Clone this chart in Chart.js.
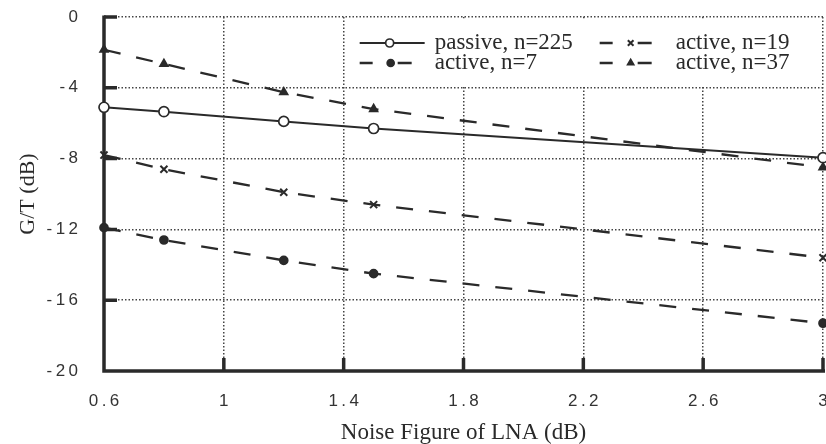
<!DOCTYPE html>
<html>
<head>
<meta charset="utf-8">
<script src="https://cdn.jsdelivr.net/npm/chart.js@4.4.1/dist/chart.umd.min.js"></script>
<style>
  html, body { margin: 0; padding: 0; background: #fff; overflow: hidden; }
  canvas { display: block; }
</style>
</head>
<body>
<canvas id="gtChart" width="860" height="444"></canvas>
<script>
// values
const noiseFigure = [0.6, 0.8, 1.2, 1.5, 3];
const passive225 = [-5.1, -5.35, -5.9, -6.3, -7.95];
const active19 = [-7.8, -8.6, -9.9, -10.6, -13.6];
const active7 = [-11.9, -12.6, -13.75, -14.5, -17.3];
const active37 = [-1.85, -2.65, -4.25, -5.2, -8.5];
const seriesNames = ['passive, n=225', 'active, n=19', 'active, n=7', 'active, n=37'];
const xTicks = [0.6, 1, 1.4, 1.8, 2.2, 2.6, 3];
const yTicks = [0, -4, -8, -12, -16, -20];

const INK = '#2a2a2a';
const SANS = '"Liberation Sans", Arial, sans-serif';
const SERIF = '"Liberation Serif", "Times New Roman", serif';

function spaced(v) {
  return String(v).split('').join('\u2009');
}
function pts(ys) {
  return noiseFigure.map((x, i) => ({ x: x, y: ys[i] }));
}

// white legend box, solid axes with inward ticks, legend entries
const boxLegend = {
  id: 'boxLegend',
  beforeDatasetsDraw(chart) {
    const { ctx, chartArea, scales: { x, y } } = chart;
    const left = x.getPixelForValue(1.4);
    const bottom = y.getPixelForValue(-4);
    ctx.save();
    ctx.fillStyle = '#fff';
    ctx.fillRect(left + 1.5, chartArea.top + 1.5, chartArea.right - left - 3, bottom - chartArea.top - 3);

    ctx.strokeStyle = INK;
    ctx.lineWidth = 3.5;
    ctx.lineCap = 'butt';
    ctx.beginPath();
    ctx.moveTo(chartArea.left, chartArea.top - 1.5);
    ctx.lineTo(chartArea.left, chartArea.bottom);
    ctx.lineTo(chartArea.right + 2, chartArea.bottom);
    ctx.stroke();
    ctx.beginPath();
    yTicks.slice(0, -1).forEach(v => {
      const py = y.getPixelForValue(v);
      ctx.moveTo(chartArea.left, py);
      ctx.lineTo(chartArea.left + 13, py);
    });
    xTicks.slice(1).forEach(v => {
      const px = x.getPixelForValue(v);
      ctx.moveTo(px, chartArea.bottom);
      ctx.lineTo(px, chartArea.bottom - 13);
    });
    ctx.stroke();
    ctx.restore();
  },
  afterDatasetsDraw(chart) {
    const { ctx, chartArea, scales: { x } } = chart;
    const left = x.getPixelForValue(1.4);
    const cols = [left + 16, left + 256];
    const textCols = [left + 91, left + 332];
    const rows = [chartArea.top + 26, chartArea.top + 46];
    const layout = [[0, 0], [1, 0], [0, 1], [1, 1]];
    ctx.save();
    chart.data.datasets.forEach((ds, i) => {
      const [c, r] = layout[i];
      const x0 = cols[c], yy = rows[r];
      ctx.strokeStyle = INK;
      ctx.lineWidth = ds.borderWidth;
      ctx.beginPath();
      if (ds.borderDash.length) {
        ctx.moveTo(x0, yy); ctx.lineTo(x0 + 13, yy);
        ctx.moveTo(x0 + 38, yy); ctx.lineTo(x0 + 52, yy);
      } else {
        ctx.moveTo(x0, yy); ctx.lineTo(x0 + 65, yy);
      }
      ctx.stroke();
      ctx.fillStyle = ds.pointBackgroundColor;
      ctx.lineWidth = ds.pointBorderWidth;
      Chart.helpers.drawPoint(ctx, {
        pointStyle: ds.pointStyle,
        radius: ds.legendRadius,
        borderWidth: ds.pointBorderWidth,
        rotation: 0
      }, ds.borderDash.length ? x0 + 31 : x0 + 30, yy);
      ctx.fillStyle = INK;
      ctx.font = '23px ' + SERIF;
      ctx.textAlign = 'left';
      ctx.textBaseline = 'alphabetic';
      ctx.fillText(seriesNames[i], textCols[c], yy + 6);
    });
    ctx.restore();
  }
};

function series(label, ys, style, dashed, radius, legendRadius, fill) {
  return {
    label: label,
    data: pts(ys),
    showLine: true,
    borderColor: INK,
    borderWidth: dashed ? 2.3 : 2,
    borderDash: dashed ? [17, 16] : [],
    pointStyle: style,
    pointRadius: radius,
    legendRadius: legendRadius,
    pointBorderColor: INK,
    pointBackgroundColor: fill,
    pointBorderWidth: style === 'crossRot' ? 2 : 1.7,
    clip: false
  };
}

new Chart(document.getElementById('gtChart'), {
  type: 'scatter',
  data: {
    datasets: [
      series(seriesNames[0], passive225, 'circle', false, 5, 4, '#fff'),
      series(seriesNames[1], active19, 'crossRot', true, 5, 4, INK),
      series(seriesNames[2], active7, 'circle', true, 4, 3.5, INK),
      series(seriesNames[3], active37, 'triangle', true, 4.5, 3.5, INK)
    ]
  },
  options: {
    responsive: false,
    animation: false,
    devicePixelRatio: 1,
    layout: { padding: { top: 17, right: 37, bottom: 0, left: 0 } },
    plugins: { legend: { display: false }, tooltip: { enabled: false } },
    scales: {
      x: {
        type: 'linear',
        min: 0.6,
        max: 3,
        afterBuildTicks: s => { s.ticks = xTicks.map(v => ({ value: v })); },
        afterFit: s => { s.height = 73; s.paddingLeft = 0; s.paddingRight = 0; },
        grid: { color: '#444', lineWidth: 1.5, drawTicks: false, borderDash: [1.5, 2] },
        border: { display: false, dash: [1.5, 2] },
        ticks: {
          padding: 20, autoSkip: false, maxRotation: 0, color: '#333',
          font: { family: SANS, size: 17 },
          callback: v => spaced(v)
        },
        title: {
          display: true, text: 'Noise Figure of LNA (dB)', color: INK,
          font: { family: SERIF, size: 23, lineHeight: 1 },
          padding: { top: 0, bottom: 0 }
        }
      },
      y: {
        type: 'linear',
        min: -20,
        max: 0,
        afterBuildTicks: s => { s.ticks = yTicks.map(v => ({ value: v })); },
        afterFit: s => { s.width = 104; s.paddingTop = 0; s.paddingBottom = 0; },
        grid: { color: '#444', lineWidth: 1.5, drawTicks: false, borderDash: [1.5, 2] },
        border: { display: false, dash: [1.5, 2] },
        ticks: {
          padding: 26, autoSkip: false, color: '#333',
          font: { family: SANS, size: 17 },
          callback: v => spaced(v)
        },
        title: {
          display: true, text: 'G/T (dB)', color: INK,
          font: { family: SERIF, size: 22, lineHeight: 1.2 },
          padding: { top: 15, bottom: 0 }
        }
      }
    }
  },
  plugins: [boxLegend]
});
</script>
</body>
</html>
